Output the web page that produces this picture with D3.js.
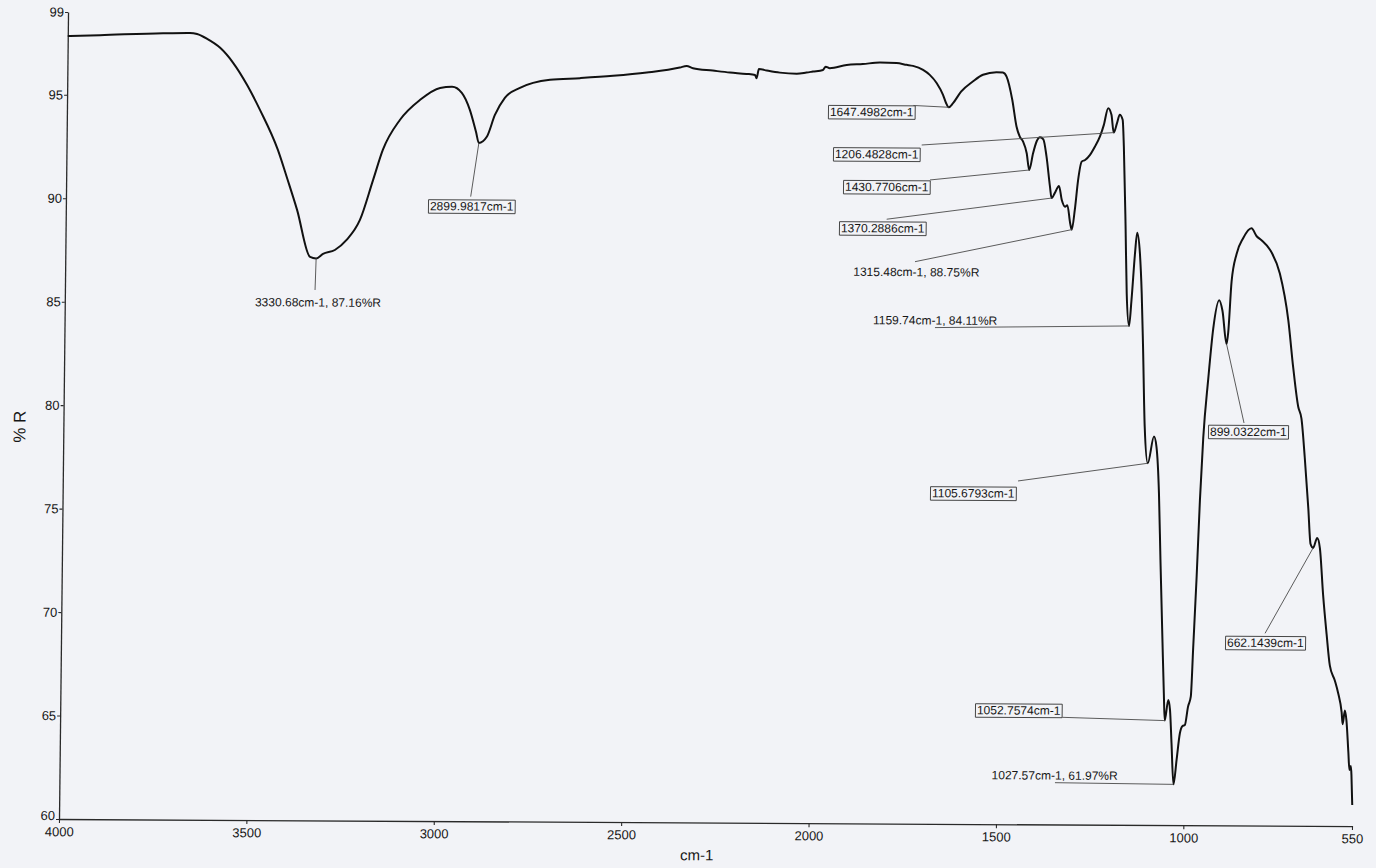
<!DOCTYPE html>
<html>
<head>
<meta charset="utf-8">
<script src="https://cdn.jsdelivr.net/npm/d3@7"></script>
<style>
  html, body { margin: 0; padding: 0; background: #f2f3f7; }
  svg { display: block; }
  text { font-family: "Liberation Sans", Arial, sans-serif; fill: #161616; }
</style>
</head>
<body>
<svg id="chart" width="1376" height="868"></svg>
<script>
// FTIR spectrum: wavenumber (cm-1) against reflectance (%R)
const wavenumbers = [
  4000, 3914, 3746, 3674, 3655, 3628, 3593, 3558, 3520, 3485, 3436, 3410, 3383, 3347,
  3330.68, 3312.5, 3281, 3250, 3215, 3181, 3156, 3111, 3058, 3005, 2973, 2947, 2925, 2908,
  2899.98, 2879, 2858, 2832, 2792, 2712, 2632, 2544, 2454, 2366, 2348, 2331, 2278, 2232,
  2188, 2165, 2161, 2155, 2134, 2099, 2054, 2028, 2011, 1984, 1977, 1966, 1921, 1878,
  1832, 1788, 1761, 1744, 1717, 1699, 1680, 1663, 1655, 1647.5, 1636, 1615, 1584, 1557,
  1521, 1504, 1494, 1478, 1466, 1457, 1448, 1438, 1430.77, 1421, 1412, 1403, 1394, 1385,
  1375, 1370.29, 1362, 1351, 1343, 1334, 1328, 1320, 1315.48, 1308, 1300, 1291, 1282,
  1269, 1256, 1243, 1233, 1222, 1213, 1206.48, 1198, 1191, 1183, 1179, 1172, 1167,
  1159.74, 1154, 1146, 1141, 1133, 1127, 1122, 1115, 1105.68, 1090, 1083, 1075, 1069,
  1061, 1056, 1052.76, 1044, 1039, 1034, 1027.57, 1020, 1012, 1005, 999, 991, 984, 979,
  972, 965.5, 958.5, 947, 935, 920, 911, 899.03, 895, 887.5, 875, 858, 836, 822, 809,
  786, 759, 735, 720.6, 706, 697, 687, 676, 669, 662.14, 651.5, 644, 634, 623.5, 614,
  600, 591, 581, 578, 572.5, 568, 562, 558.5, 555, 553, 551.5, 550
];
const reflectance = [
  97.84, 97.89, 98.0, 98.02, 97.97, 97.74, 97.31, 96.59, 95.52, 94.32, 92.39, 91.0, 89.5, 87.23,
  87.16, 87.38, 87.57, 88.06, 89.03, 90.97, 92.42, 93.88, 94.85, 95.43, 95.49, 95.2, 94.38, 93.32,
  92.78, 93.08, 94.14, 94.97, 95.45, 95.85, 95.94, 96.06, 96.23, 96.48, 96.56, 96.45, 96.34, 96.25,
  96.19, 96.14, 95.98, 96.43, 96.36, 96.26, 96.21, 96.27, 96.32, 96.4, 96.56, 96.49, 96.65, 96.7,
  96.77, 96.75, 96.67, 96.62, 96.43, 96.19, 95.79, 95.23, 94.85, 94.63, 94.83, 95.39, 95.88, 96.21,
  96.34, 96.32, 96.13, 95.0, 93.72, 93.23, 92.99, 92.43, 91.62, 92.43, 93.0, 93.21, 93.11, 92.27,
  90.83, 90.27, 90.51, 90.86, 90.18, 89.86, 89.93, 89.06, 88.75, 89.7, 91.16, 92.04, 92.12,
  92.37, 92.77, 93.26, 93.82, 94.63, 94.31, 93.45, 93.91, 94.31, 94.07, 92.78, 88.91, 85.69,
  84.11, 85.37, 87.63, 88.62, 87.63, 85.7, 83.2, 79.25, 77.48, 78.77, 78.28, 76.04, 72.81,
  68.79, 66.37, 65.05, 66.05, 65.56, 63.95, 61.97, 63.15, 64.44, 64.79, 64.84, 65.73, 66.21, 68.6,
  72.0, 75.7, 78.71, 81.55, 84.02, 85.38, 84.87, 83.26, 83.83, 86.29, 87.62, 88.38, 88.86, 88.48, 88.29,
  87.83, 86.68, 84.42, 82.15, 80.25, 79.68, 77.79, 75.33, 73.62, 73.43, 73.91, 73.43, 71.17, 69.27, 67.76,
  67.02, 66.43, 65.49, 64.92, 65.58, 65.11, 63.59, 62.71, 62.9, 62.47, 61.74, 61.02
];

// Peak annotations
const peakWavenumbers = [3330.68, 2899.98, 1647.5, 1430.77, 1370.29, 1315.48, 1206.48, 1159.74, 1105.68, 1052.76, 1027.57, 899.03, 662.14];
const peakReflectance = [87.16, 92.78, 94.63, 91.62, 90.27, 88.75, 93.45, 84.11, 77.48, 65.05, 61.97, 83.26, 73.43];
const peakLabels = [
  "3330.68cm-1, 87.16%R", "2899.9817cm-1", "1647.4982cm-1", "1430.7706cm-1", "1370.2886cm-1",
  "1315.48cm-1, 88.75%R", "1206.4828cm-1", "1159.74cm-1, 84.11%R", "1105.6793cm-1",
  "1052.7574cm-1", "1027.57cm-1, 61.97%R", "899.0322cm-1", "662.1439cm-1"
];

const xTicks = [4000, 3500, 3000, 2500, 2000, 1500, 1000, 550];
const yTicks = [60, 65, 70, 75, 80, 85, 90, 95, 99];
const xTitle = "cm-1";
const yTitle = "% R";

// Label placement (text left/middle, leader start) in plot pixels, and frame flag
const labelLayout = [
  { tx: 249.2, ty: 300.9, lx: 309.1, ly: 288.6, boxed: false },
  { tx: 423.1, ty: 204.0, lx: 463.7, ly: 194.4, boxed: true },
  { tx: 822.0, ty: 107.5, lx: 905.3, ly: 100.8, boxed: true },
  { tx: 837.9, ty: 182.4, lx: 922.8, ly: 175.2, boxed: true },
  { tx: 834.3, ty: 223.7, lx: 879.9, ly: 214.7, boxed: true },
  { tx: 847.1, ty: 267.3, lx: 908.7, ly: 257.0, boxed: false },
  { tx: 827.5, ty: 149.7, lx: 914.1, ly: 140.3, boxed: true },
  { tx: 867.4, ty: 315.5, lx: 929.4, ly: 322.8, boxed: false },
  { tx: 928.3, ty: 488.2, lx: 1014.2, ly: 475.7, boxed: true },
  { tx: 975.7, ty: 705.0, lx: 1061.1, ly: 711.8, boxed: true },
  { tx: 991.1, ty: 769.9, lx: 1054.5, ly: 777.2, boxed: false },
  { tx: 1205.6, ty: 425.2, lx: 1239.5, ly: 416.5, boxed: true },
  { tx: 1225.0, ty: 636.1, lx: 1262.9, ly: 626.7, boxed: true }
];

const svg = d3.select("#chart");
svg.append("rect").attr("width", 1376).attr("height", 868).attr("fill", "#f2f3f7");

const x = d3.scaleLinear().domain([4000, 550]).range([59, 1352]);
const y = d3.scaleLinear().domain([60, 99]).range([819, 12]);

// the printed sheet sits slightly askew
const g = svg.append("g").attr("transform", "matrix(1,0.0055,-0.0112,1,9.17,-0.32)");

// axes
const xAxis = g.append("g")
  .attr("transform", "translate(0,819)")
  .call(d3.axisBottom(x).tickValues(xTicks).tickFormat(d3.format("d"))
    .tickSize(4).tickSizeOuter(0).tickPadding(4));
const yAxis = g.append("g")
  .attr("transform", "translate(59,0)")
  .call(d3.axisLeft(y).tickValues(yTicks).tickFormat(d3.format("d"))
    .tickSize(3).tickSizeOuter(0).tickPadding(1));
[xAxis, yAxis].forEach(a => {
  a.selectAll("path.domain").attr("stroke", "#2a2a2a").attr("stroke-width", 1.3);
  a.selectAll(".tick line").attr("stroke", "#2a2a2a").attr("stroke-width", 1.1);
  a.selectAll(".tick text").attr("fill", "#161616").style("font-size", "13px")
    .style("font-family", "'Liberation Sans', Arial, sans-serif");
});
// lift the lowest y label clear of the first x label
yAxis.selectAll(".tick").filter(d => d === 60).select("text").attr("dy", "0.05em");

g.append("text")
  .attr("transform", "translate(15,427) rotate(-90)")
  .attr("text-anchor", "middle").attr("dy", "0.35em")
  .style("font-size", "17px")
  .text(yTitle);
g.append("text")
  .attr("x", 697).attr("y", 851.5)
  .attr("text-anchor", "middle").attr("dy", "0.35em")
  .style("font-size", "15px")
  .text(xTitle);

// spectrum trace
const points = wavenumbers.map((w, i) => [w, reflectance[i]]);
const line = d3.line()
  .x(d => x(d[0]))
  .y(d => y(d[1]))
  .curve(d3.curveMonotoneX);
g.append("path")
  .datum(points)
  .attr("d", line)
  .attr("fill", "none")
  .attr("stroke", "#111")
  .attr("stroke-width", 2)
  .attr("stroke-linejoin", "round");

// peak labels with leader lines
const ann = g.append("g");
peakLabels.forEach((label, i) => {
  const L = labelLayout[i];
  ann.append("line")
    .attr("x1", L.lx).attr("y1", L.ly)
    .attr("x2", x(peakWavenumbers[i])).attr("y2", y(peakReflectance[i]))
    .attr("stroke", "#4a4a4a").attr("stroke-width", 0.9);
  const t = ann.append("text")
    .attr("x", L.tx).attr("y", L.ty).attr("dy", "0.35em")
    .style("font-size", "12px")
    .text(label);
  if (L.boxed) {
    const b = t.node().getBBox();
    ann.insert("rect", () => t.node())
      .attr("x", b.x - 1.5).attr("y", b.y + 0.5)
      .attr("width", b.width + 3).attr("height", b.height - 0.5)
      .attr("fill", "#f2f3f7")
      .attr("stroke", "#333").attr("stroke-width", 0.9);
  }
});
</script>
</body>
</html>
